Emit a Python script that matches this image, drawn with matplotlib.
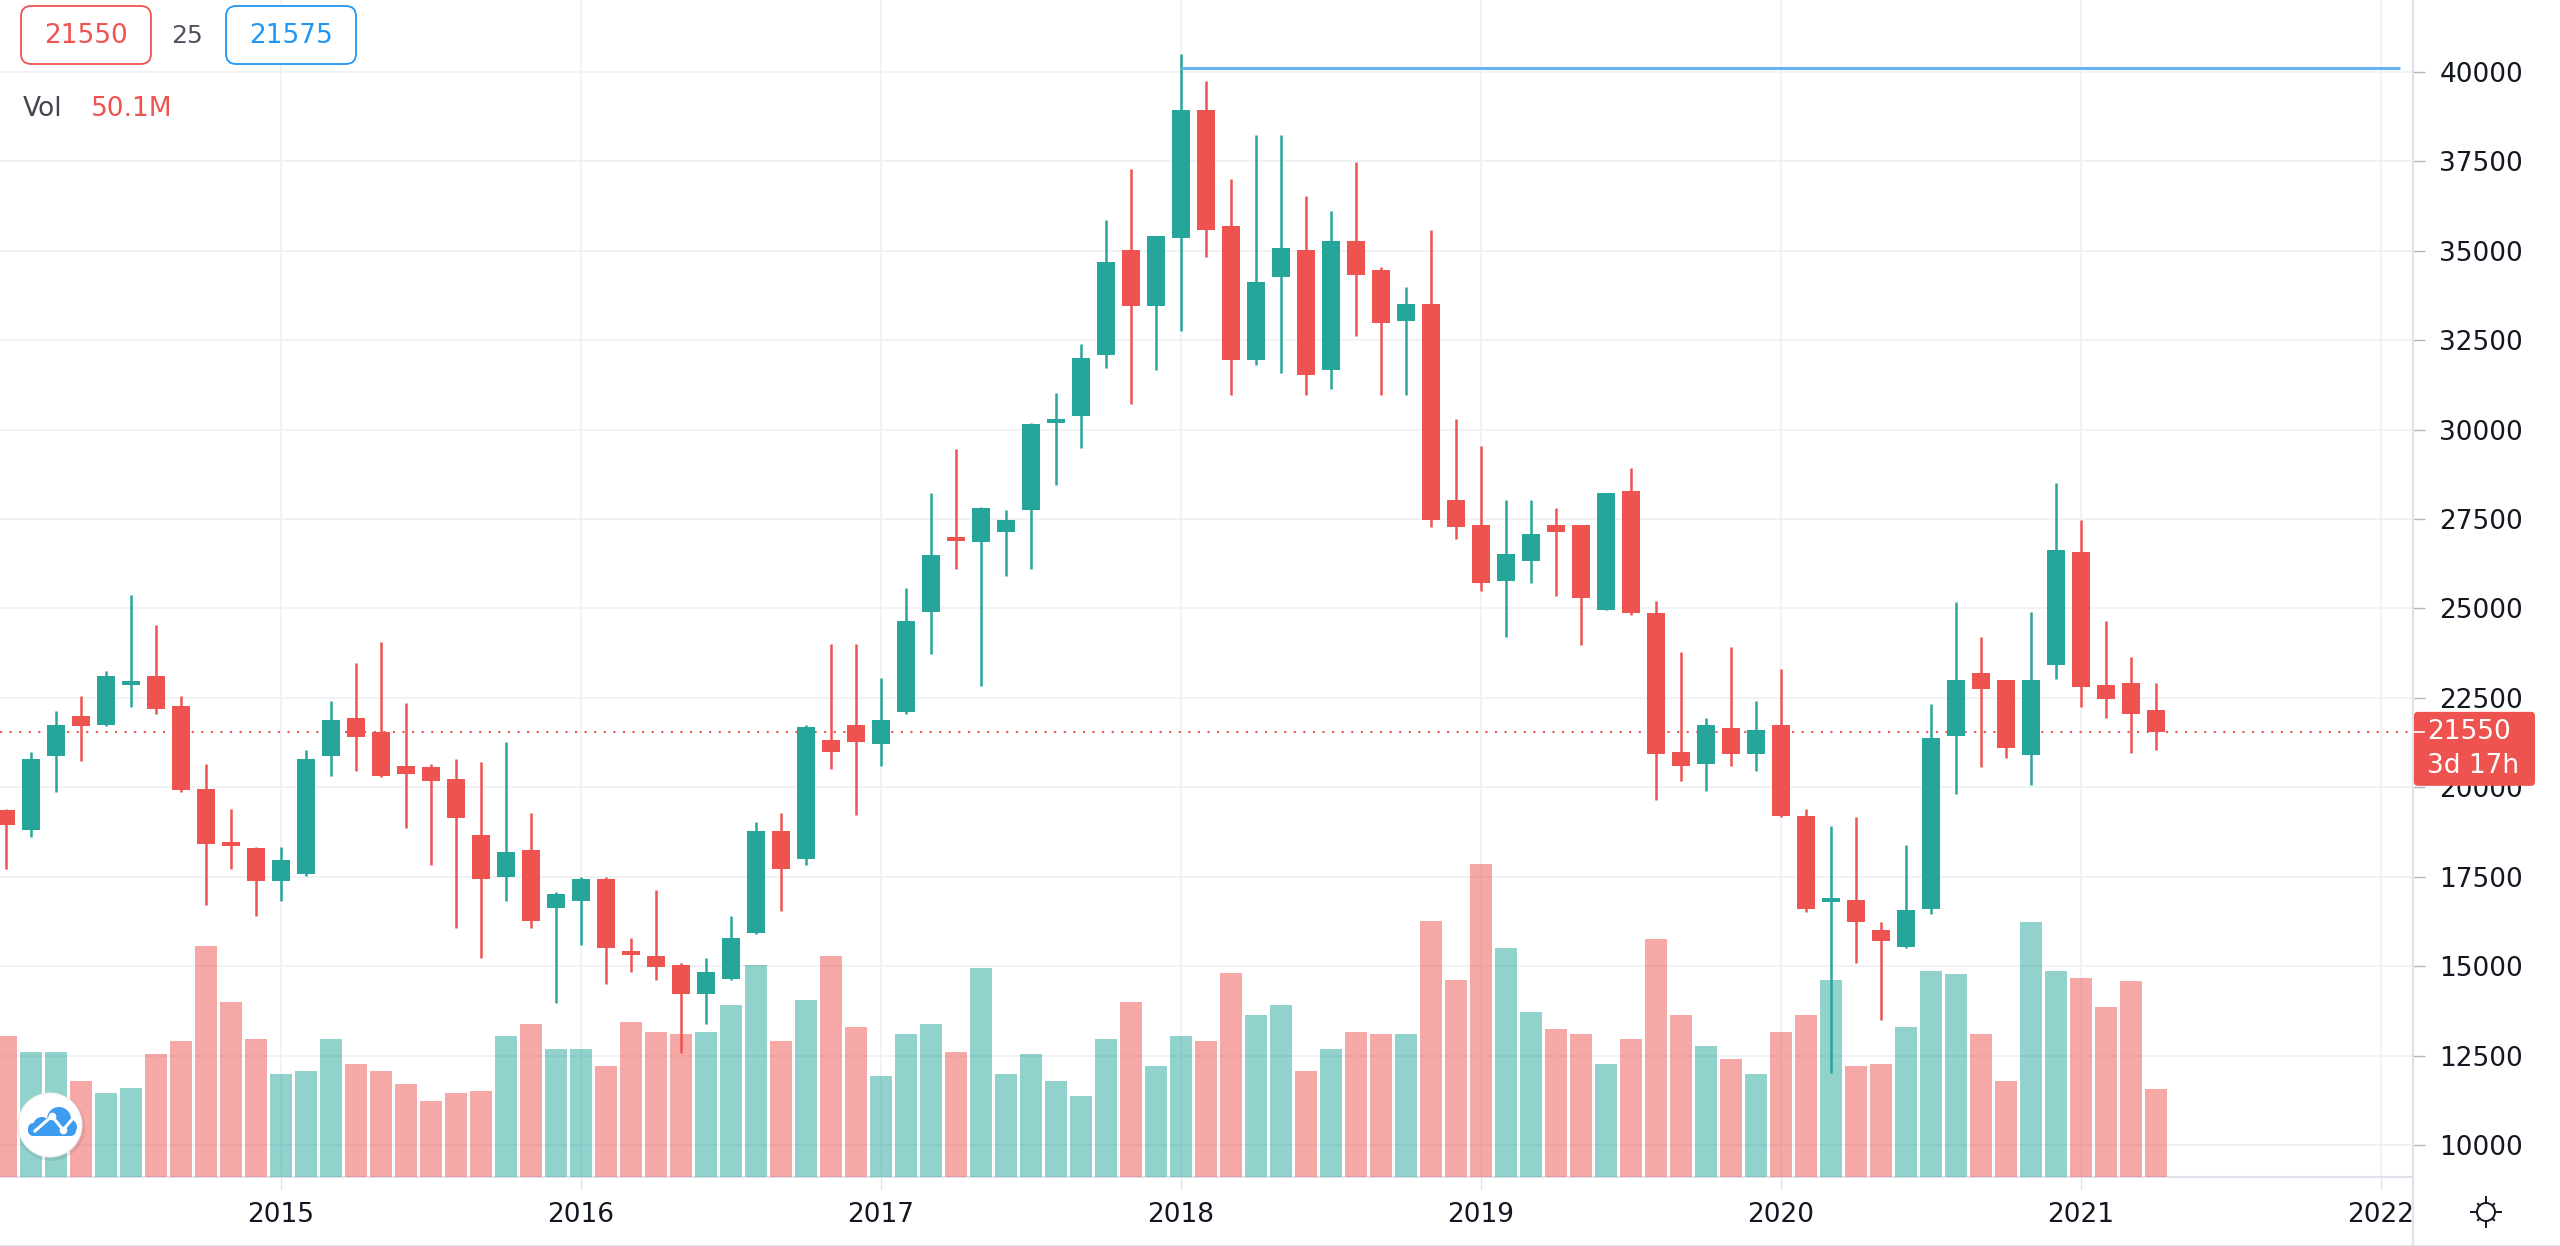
import matplotlib
matplotlib.use("Agg")
import matplotlib.pyplot as plt
import matplotlib.transforms as mtransforms
from matplotlib.patches import FancyBboxPatch, Circle
from matplotlib.lines import Line2D
import numpy as np
import pandas as pd

plt.rcParams['font.family'] = ['DejaVu Sans']

# ---------------- data (monthly candles, Feb 2014 .. Apr 2021) ----------------
months = pd.period_range('2014-02', '2021-04', freq='M')

opens = [19360, 18815, 20870, 22005, 21750, 22880, 23105, 22285, 19950, 18450,
         18305, 17370, 17565, 20875, 21950, 21545, 20585, 20575, 20235, 18665,
         17485, 18235, 16620, 16825, 17430, 15400, 15290, 15025, 14215, 14630,
         15925, 18790, 17985, 21335, 21740, 21210, 22100, 24900, 26980, 26870,
         27150, 27765, 30220, 30370, 32085, 35015, 33465, 35365, 38935, 35690,
         31940, 34275, 35015, 31675, 35280, 34460, 33045, 33515, 28020, 27345,
         25770, 26325, 27320, 27345, 24950, 28285, 24875, 20990, 20665, 21670,
         20930, 21740, 19190, 16800, 16845, 16010, 15545, 16585, 21435, 23200,
         22990, 20910, 23420, 26570, 22870, 22930, 22170]
highs = [19400, 20980, 22145, 22560, 23245, 25370, 24550, 22560, 20640, 19405,
         18330, 18320, 21045, 22420, 23465, 24075, 22365, 20640, 20780, 20710,
         21280, 19280, 17080, 17485, 17485, 15775, 17140, 15095, 15230, 16410,
         19025, 19280, 21740, 24015, 24015, 23060, 25580, 28215, 29460, 27850,
         27745, 30185, 31035, 32400, 35850, 37280, 35425, 40510, 39745, 37000,
         38245, 38245, 36540, 36115, 37485, 34545, 33975, 35570, 30285, 29535,
         28020, 28020, 27805, 27345, 28225, 28915, 25215, 23790, 21935, 23915,
         22410, 23300, 19380, 18910, 19170, 16220, 18400, 22320, 25175, 24215,
         22990, 24915, 28505, 27465, 24645, 23630, 22930]
lows = [17720, 18620, 19855, 20735, 21705, 22250, 22050, 19855, 16700, 17715,
        16410, 16815, 17510, 20320, 20455, 20280, 18875, 17835, 16065, 15230,
        16815, 16065, 13960, 15580, 14500, 14825, 14620, 12575, 13380, 14600,
        15900, 16540, 17835, 20515, 19220, 20585, 22050, 23740, 26110, 22840,
        25915, 26110, 28455, 29495, 31735, 30705, 31675, 32765, 34820, 30975,
        31820, 31590, 30975, 31130, 32620, 30975, 30975, 27285, 26930, 25480,
        24195, 25710, 25360, 23990, 24950, 24815, 19650, 20180, 19890, 20585,
        20455, 19165, 16520, 12005, 15090, 13500, 15520, 16465, 19805, 20565,
        20825, 20075, 23015, 22255, 21925, 20970, 21030]
closes = [18950, 20780, 21730, 21705, 23105, 22960, 22180, 19915, 18410, 18380,
          17370, 17970, 20780, 21880, 21415, 20320, 20375, 20180, 19140, 17430,
          18180, 16270, 17010, 17430, 15520, 15330, 14975, 14215, 14825, 15785,
          18790, 17715, 21680, 20990, 21280, 21880, 24660, 26495, 26900, 27800,
          27465, 30150, 30280, 32000, 34675, 33465, 35425, 38935, 35585, 31940,
          34120, 35085, 31530, 35280, 34335, 32970, 33515, 27475, 27285, 25710,
          26510, 27075, 27150, 25285, 28225, 24875, 20930, 20585, 21740, 20930,
          21590, 19210, 16590, 16875, 16230, 15705, 16560, 21365, 22990, 22745,
          21095, 22990, 26630, 22810, 22480, 22050, 21550]
volumes_m = [80.0, 71.3, 71.3, 54.8, 47.7, 50.5, 70.1, 77.2, 131.5, 99.5,
             78.3, 58.8, 60.2, 78.3, 64.2, 60.2, 53.1, 43.4, 47.7, 48.8,
             80.0, 87.1, 72.9, 72.9, 63.0, 88.2, 82.6, 81.2, 82.6, 97.9,
             120.4, 77.2, 100.8, 126.0, 85.4, 57.6, 81.2, 87.1, 71.3, 119.0,
             58.8, 70.1, 54.8, 46.0, 78.3, 99.6, 63.0, 80.0, 77.2, 116.1,
             92.5, 97.9, 60.2, 72.9, 82.6, 81.2, 81.2, 145.6, 112.2, 178.0,
             130.4, 93.9, 84.3, 81.2, 64.2, 78.3, 135.5, 92.5, 74.4, 67.2,
             58.6, 82.6, 92.5, 112.2, 63.1, 64.4, 85.2, 117.5, 115.7, 81.2,
             54.4, 145.3, 117.5, 113.2, 96.5, 111.5, 50.1]

price_ticks = [10000, 12500, 15000, 17500, 20000, 22500, 25000, 27500,
               30000, 32500, 35000, 37500, 40000]
year_labels = ['2015', '2016', '2017', '2018', '2019', '2020', '2021', '2022']

ray_level = 40120          # horizontal ray drawn from the Jan 2018 candle
ray_start = '2018-01'
bid_text, spread_text, ask_text = '21550', '25', '21575'
vol_text = '50.1M'
countdown_text = '3d 17h'

# ---------------- style ----------------
UP = '#26a69a'
DOWN = '#ef5350'
GRID = '#f0f2f5'
AXIS = '#e0e3eb'
TEXT = '#131722'
FS = 19

W, H, DPI = 2560, 1246, 100
PANE_RIGHT = 2413
PANE_BOTTOM = 1177

fig = plt.figure(figsize=(W / DPI, H / DPI), dpi=DPI)
fig.patch.set_facecolor('white')

rect = [0, (H - PANE_BOTTOM) / H, PANE_RIGHT / W, PANE_BOTTOM / H]
ax_g = fig.add_axes(rect, zorder=0)
ax_v = fig.add_axes(rect, zorder=1, sharex=ax_g)
ax_p = fig.add_axes(rect, zorder=2, sharex=ax_g, sharey=ax_g)

o = np.array(opens, float)
h = np.array(highs, float)
l = np.array(lows, float)
c = np.array(closes, float)
v = np.array(volumes_m, float)
idx = np.arange(len(c))
up = c >= o
colors = np.where(up, UP, DOWN)

ax_g.set_xlim(-0.24, 96.28)
ax_g.set_ylim(9104, 42013)
ax_v.set_ylim(0, 670)

# grid / axes
year_pos = [(int(y) - 2014) * 12 - 1 for y in year_labels]
ax_g.set_yticks(price_ticks)
ax_g.set_yticklabels([str(t) for t in price_ticks])
ax_g.set_xticks(year_pos)
ax_g.set_xticklabels(year_labels)
ax_g.yaxis.tick_right()
ax_g.grid(True, color=GRID, linewidth=1.4)
ax_g.set_axisbelow(True)
ax_g.tick_params(axis='y', direction='out', length=8.5, width=1.0, color='#b2b5be',
                 pad=10.5, labelsize=FS, labelcolor=TEXT)
ax_g.tick_params(axis='x', direction='out', length=8.5, width=1.0, color=AXIS,
                 pad=9.5, labelsize=FS, labelcolor=TEXT)
for s in ['top', 'left', 'right']:
    ax_g.spines[s].set_visible(False)
ax_g.spines['bottom'].set_color(AXIS)
ax_g.spines['bottom'].set_linewidth(1.5)

for a in (ax_v, ax_p):
    a.patch.set_visible(False)
    a.axis('off')

# volume
ax_v.bar(idx, v, width=0.88, color=colors, alpha=0.5, linewidth=0)

# candles
min_h = 110
body_h = np.abs(c - o)
body_lo = np.minimum(o, c)
small = body_h < min_h
body_lo = np.where(small, (o + c) / 2 - min_h / 2, body_lo)
body_h = np.where(small, min_h, body_h)
ax_p.vlines(idx, l, h, colors=colors, linewidth=1.8, zorder=2)
ax_p.bar(idx, body_h, bottom=body_lo, width=0.74, color=colors, linewidth=0, zorder=3)

# last price dotted line
last = c[-1]
ax_p.axhline(last, color=DOWN, linewidth=1.5, linestyle=(0, (1, 3.6)), zorder=1)

# ray from Jan 2018
ray_x0 = list(months.astype(str)).index(ray_start)
ax_p.hlines(ray_level, ray_x0, 95.76, color='#64b5f6', linewidth=2.2, zorder=4)

# right-side separator and bottom border
fig.add_artist(Line2D([PANE_RIGHT / W] * 2, [0, 1], transform=fig.transFigure,
                      color=AXIS, linewidth=1.6))
fig.add_artist(Line2D([0, 1], [0.5 / H, 0.5 / H], transform=fig.transFigure,
                      color=AXIS, linewidth=1.2))

# ---------------- price label on the right ----------------
ident = mtransforms.IdentityTransform()
y_last = ax_p.transData.transform((0, last))[1]
lab = FancyBboxPatch((PANE_RIGHT + 1, y_last - 54), 121, 74,
                     boxstyle='round,pad=0,rounding_size=4', transform=ident,
                     facecolor=DOWN, edgecolor='none', zorder=10)
fig.add_artist(lab)
fig.add_artist(Line2D([PANE_RIGHT, PANE_RIGHT + 11], [y_last, y_last], transform=ident,
                      color='white', linewidth=1.2, zorder=11))
fig.text(2427, y_last, f'{int(last)}', transform=ident, color='white', fontsize=FS,
         va='center', ha='left', zorder=12)
fig.text(2427, y_last - 34, countdown_text, transform=ident, color='white', fontsize=FS,
         va='center', ha='left', zorder=12)


def px(x, y_top):
    return x / W, 1 - y_top / H


# ---------------- legend at top-left ----------------
def boxed(x0, x1, y0, y1, col, txt):
    bx = FancyBboxPatch(px(x0, y1), (x1 - x0) / W, (y1 - y0) / H,
                        boxstyle='round,pad=0,rounding_size=0.004',
                        transform=fig.transFigure, facecolor='white',
                        edgecolor=col, linewidth=1.3, zorder=10,
                        mutation_aspect=W / H)
    fig.add_artist(bx)
    fig.text(*px((x0 + x1) / 2, (y0 + y1) / 2 + 1), txt, color=col, fontsize=FS,
             ha='center', va='center', zorder=11)


boxed(21, 151, 6, 64, '#f05350', bid_text)
fig.text(*px(187, 36), spread_text, color='#50535e', fontsize=FS - 1,
         ha='center', va='center', zorder=11)
boxed(226, 356, 6, 64, '#2196f3', ask_text)
fig.text(*px(23, 109), 'Vol', color='#434651', fontsize=FS, ha='left', va='center', zorder=11)
fig.text(*px(91, 109), vol_text, color=DOWN, fontsize=FS, ha='left', va='center', zorder=11)

# ---------------- logo bottom-left ----------------
cx, cy = 50, H - 1125
fig.add_artist(Circle((cx + 1, cy - 2), 34, transform=ident, facecolor='#000000',
                      alpha=0.08, edgecolor='none', zorder=10))
fig.add_artist(Circle((cx, cy), 32, transform=ident, facecolor='white',
                      edgecolor='#eeeeee', linewidth=0.8, zorder=11))
blue = '#3d9cf0'
for (dx, dy, r) in [(9, 6, 12), (-8, -1, 9), (19, -2, 8), (-16, -5, 6)]:
    fig.add_artist(Circle((cx + dx, cy + dy), r, transform=ident, facecolor=blue,
                          edgecolor='none', zorder=12))
fig.add_artist(FancyBboxPatch((cx - 22, cy - 11), 48, 13, boxstyle='round,pad=0,rounding_size=6',
                              transform=ident, facecolor=blue, edgecolor='none', zorder=12))
zz_x = [cx - 15, cx + 2, cx + 13, cx + 24]
zz_y = [cy - 6, cy + 9, cy - 5, cy + 8]
fig.add_artist(Line2D(zz_x, zz_y, transform=ident, color='white', linewidth=2.2, zorder=13))
fig.add_artist(Line2D(zz_x[1:3], zz_y[1:3], transform=ident, color='white', marker='o',
                      markersize=4.5, linewidth=0, zorder=13))

# ---------------- settings icon bottom-right ----------------
gx, gy = 2486, H - 1212
fig.add_artist(Circle((gx, gy), 9, transform=ident, facecolor='white',
                      edgecolor='#131722', linewidth=1.4, zorder=12))
for ang in range(0, 360, 45):
    a = np.deg2rad(ang)
    r0, r1 = (9, 15) if ang % 90 == 0 else (9, 11.5)
    fig.add_artist(Line2D([gx + r0 * np.cos(a), gx + r1 * np.cos(a)],
                          [gy + r0 * np.sin(a), gy + r1 * np.sin(a)], transform=ident,
                          color='#131722', linewidth=1.4, zorder=12))

fig.savefig('out.png', dpi=DPI, facecolor='white')
